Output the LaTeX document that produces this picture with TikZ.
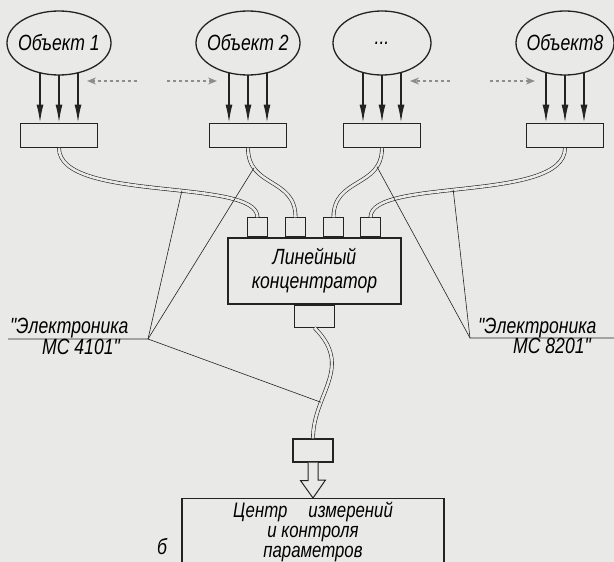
\documentclass[tikz,border=0pt]{standalone}
\usepackage{fontspec}
\newfontfamily\draftfont{Liberation Sans}[FakeStretch=0.8]
\usepackage{tikz}
\usetikzlibrary{shapes.geometric, arrows.meta, positioning, backgrounds}
\definecolor{paper}{RGB}{233,233,231}
\definecolor{ink}{RGB}{35,35,35}
\definecolor{faint}{RGB}{140,140,140}

\begin{document}
\begin{tikzpicture}[
  x=1pt, y=-1pt,
  font=\draftfont\itshape\fontsize{22}{24}\selectfont,
  obj/.style={ellipse, draw=ink, line width=1.3pt, fill=paper,
              minimum width=98pt, minimum height=64pt, inner xsep=-4pt, inner ysep=0pt},
  sens/.style={rectangle, draw=ink, line width=1.3pt,
               minimum width=77pt, minimum height=24pt},
  plug/.style={rectangle, draw=ink, line width=1.1pt, fill=paper,
               minimum width=20pt, minimum height=19pt, inner sep=0pt},
  cable/.style={draw=ink, double=paper, double distance=2.6pt, line width=0.6pt},
  lead/.style={draw=ink, line width=0.6pt},
  sig/.style={-{Latex[length=18pt,width=7pt]}, line width=1.6pt, draw=ink},
  hint/.style={-{Stealth[length=9pt,width=7pt]}, dashed, line width=1.5pt, draw=faint}
]
\useasboundingbox (0,0) rectangle (614,562);

% objects and their sensor boxes
\node[obj] (o1) at (59,43) {Объект 1};
\node[obj] (o2) at (248,43) {Объект 2};
\node[obj] (o3) at (382,43) {...};
\node[obj] (o8) at (565,43) {Объект8};

\node[sens, below=47pt of o1] (s1) {};
\node[sens, below=47pt of o2] (s2) {};
\node[sens, below=47pt of o3] (s3) {};
\node[sens, below=47pt of o8] (s8) {};

\begin{scope}[on background layer]
  \fill[paper] (0,0) rectangle (614,562);
  \foreach \o/\s in {o1/s1, o2/s2, o3/s3, o8/s8}
    \foreach \dx in {-19,0,19}
      \draw[sig] ([xshift=\dx pt]\o.center) -- ([xshift=\dx pt]\s.north);
\end{scope}

% dashed hints between objects
\coordinate (h1) at (137,81); \coordinate (h1e) at (87,81);
\coordinate (h2) at (167,81); \coordinate (h2e) at (217,81);
\coordinate (h3) at (450,81); \coordinate (h3e) at (410,81);
\coordinate (h4) at (490,81); \coordinate (h4e) at (535,81);
\draw[hint] (h1) -- (h1e);
\draw[hint] (h2) -- (h2e);
\draw[hint] (h3) -- (h3e);
\draw[hint] (h4) -- (h4e);

% line concentrator
\node[rectangle, draw=ink, line width=1.3pt, minimum width=173pt, minimum height=66pt,
      align=center] (conc) at (314.5,271) {Линейный\\концентратор};
\node[plug, anchor=south] (p1) at ([xshift=-57pt]conc.north) {};
\node[plug, anchor=south] (p2) at ([xshift=-19pt]conc.north) {};
\node[plug, anchor=south] (p3) at ([xshift=19pt]conc.north) {};
\node[plug, anchor=south] (p4) at ([xshift=56pt]conc.north) {};
\node[plug, minimum width=40pt, minimum height=22pt, anchor=north] (pb) at (conc.south) {};

% measuring centre
\node[plug, minimum width=40pt, minimum height=23pt] (pc) at (313,450.5) {};
\node[rectangle, draw=ink, line width=1.3pt, minimum width=262pt, anchor=north,
      align=center, inner ysep=3pt, font=\draftfont\itshape\fontsize{21}{20}\selectfont]
      (ctr) at (313,498) {Центр\quad измерений\\и контроля\\параметров};
\draw[line width=1pt, draw=ink, fill=paper] ([xshift=-5pt]pc.south) -- ++(0,18) -- ++(-7.5,0)
  -- (ctr.north) -- ++(12.5,-18) -- ++(-7.5,0) -- ([xshift=5pt]pc.south);
\node (fig) at (162,547) {б};

% cables
\draw[cable] (s1.south) .. controls +(0,55) and +(0,-40) .. (p1.north) coordinate[pos=0.58] (k1);
\draw[cable] (s2.south) .. controls +(0,40) and +(0,-40) .. (p2.north) coordinate[pos=0.22] (k2);
\draw[cable] (s3.south) .. controls +(0,40) and +(0,-40) .. (p3.north) coordinate[pos=0.2] (k3);
\draw[cable] (s8.south) .. controls +(0,55) and +(0,-40) .. (p4.north) coordinate[pos=0.55] (k4);
\draw[cable] (pb.south) .. controls +(40,40) and +(0,-45) .. (pc.north) coordinate[pos=0.7] (k5);

% cable labels
\coordinate (lA) at (148,339); \coordinate (lA0) at (8,339);
\coordinate (lB) at (470,338); \coordinate (lB0) at (614,338);
\draw[lead] (lA0) -- (lA) -- (k1);
\draw[lead] (lA) -- (k2);
\draw[lead] (lA) -- (k5);
\draw[lead] (lB0) -- (lB) -- (k4);
\draw[lead] (lB) -- (k3);
\node[anchor=base west, inner sep=0pt] (e1) at (10,333) {"Электроника};
\node[anchor=base west, inner sep=0pt] (m1) at (42,354) {МС 4101"};
\node[anchor=base west, inner sep=0pt] (e2) at (478,333) {"Электроника};
\node[anchor=base west, inner sep=0pt] (m2) at (513,353) {МС 8201"};

\end{tikzpicture}
\end{document}
